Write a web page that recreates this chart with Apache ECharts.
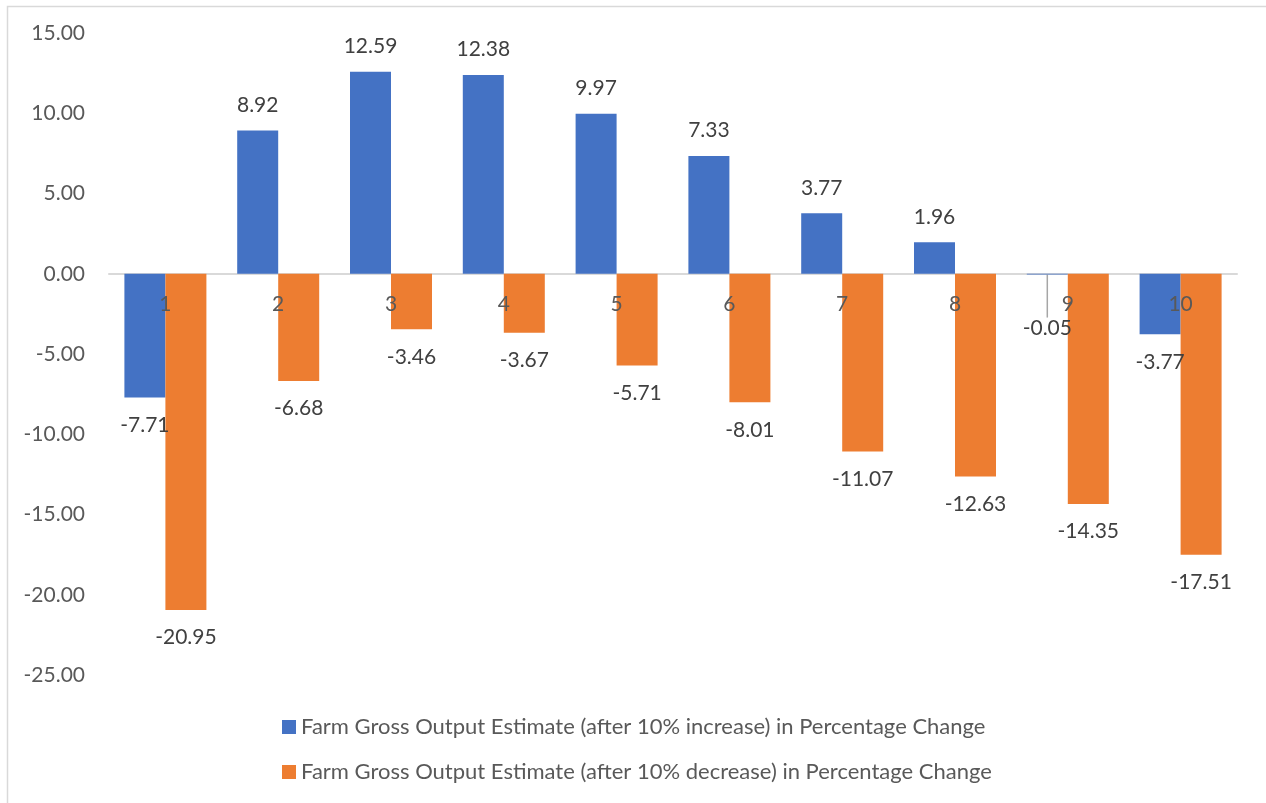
<!DOCTYPE html>
<html>
<head>
<meta charset="utf-8">
<script src="https://cdn.jsdelivr.net/npm/echarts@6/dist/echarts.min.js"></script>
<style>
  html, body { margin: 0; padding: 0; background: #fff; }
  #chart { width: 1266px; height: 803px; }
</style>
</head>
<body>
<div id="chart"></div>
<script>
// Deciles / groups on the category axis
const categories = ['1', '2', '3', '4', '5', '6', '7', '8', '9', '10'];

// Percentage change in farm gross output
const increaseValues = [-7.71, 8.92, 12.59, 12.38, 9.97, 7.33, 3.77, 1.96, -0.05, -3.77];
const decreaseValues = [-20.95, -6.68, -3.46, -3.67, -5.71, -8.01, -11.07, -12.63, -14.35, -17.51];

const seriesNames = [
  'Farm Gross Output Estimate (after 10% increase) in Percentage Change',
  'Farm Gross Output Estimate (after 10% decrease) in Percentage Change'
];

const Y_MIN = -25, Y_MAX = 15, Y_STEP = 5;

const FONT = 'Lato, "Noto Sans", sans-serif';
const W = 1266, H = 803;
const GRID = { left: 109, right: 29, top: 33, bottom: 128 };
// pixel row of the zero line, used for the category-label strip
const plotH = H - GRID.top - GRID.bottom;
const zeroY = GRID.top + plotH * Y_MAX / (Y_MAX - Y_MIN);

// Put each label beyond the bar end (above for positive, below for negative)
function toItems(values) {
  return values.map(v => ({
    value: v,
    label: { position: v >= 0 ? 'top' : 'bottom', distance: v >= 0 ? 15 : 17 }
  }));
}

const increaseItems = toItems(increaseValues);
// the tiny ninth bar gets its label pushed down with a leader line
increaseItems[8].labelLine = { show: true };

const labelStyle = {
  show: true,
  color: '#404040',
  fontSize: 21,
  fontFamily: FONT,
  formatter: p => p.value.toFixed(2)
};

const chart = echarts.init(document.getElementById('chart'), null, { renderer: 'canvas' });

chart.setOption({
  backgroundColor: '#ffffff',
  animation: false,
  graphic: [{
    type: 'rect',
    shape: { x: 7.5, y: 6.5, width: 1400, height: 1000 },
    style: { fill: 'none', stroke: '#d9d9d9', lineWidth: 1.5 },
    silent: true
  }],
  grid: [
    Object.assign({ containLabel: false }, GRID),
    // strip ending at the zero line: carries the category labels
    { left: GRID.left, right: GRID.right, top: GRID.top, bottom: H - zeroY, containLabel: false }
  ],
  legend: {
    orient: 'vertical',
    left: 282,
    top: 716,
    padding: 0,
    itemWidth: 14,
    itemHeight: 14,
    itemGap: 23,
    icon: 'rect',
    textStyle: { color: '#595959', fontSize: 22, fontFamily: FONT },
    data: seriesNames
  },
  xAxis: [
    {
      type: 'category',
      gridIndex: 0,
      data: categories,
      axisLine: { onZero: true, lineStyle: { color: '#d9d9d9', width: 2 } },
      axisTick: { show: false },
      axisLabel: { show: false },
      splitLine: { show: false }
    },
    {
      type: 'category',
      gridIndex: 1,
      data: categories,
      z: 10,
      axisLine: { show: false },
      axisTick: { show: false },
      axisLabel: { color: '#595959', fontSize: 21, fontFamily: FONT, margin: 20 },
      splitLine: { show: false }
    }
  ],
  yAxis: [
    {
      type: 'value',
      gridIndex: 0,
      min: Y_MIN,
      max: Y_MAX,
      interval: Y_STEP,
      axisLine: { show: false },
      axisTick: { show: false },
      splitLine: { show: false },
      axisLabel: {
        color: '#595959', fontSize: 21, fontFamily: FONT, margin: 24,
        formatter: v => v.toFixed(2)
      }
    },
    { type: 'value', gridIndex: 1, show: false }
  ],
  series: [
    {
      name: seriesNames[0],
      type: 'bar',
      data: increaseItems,
      barWidth: 41,
      barGap: '0%',
      itemStyle: { color: '#4472c4' },
      label: labelStyle,
      labelLine: { show: false, lineStyle: { color: '#a6a6a6', width: 1.5 } },
      labelLayout: p => (p.dataIndex === 8 ? { dy: 26 } : {})
    },
    {
      name: seriesNames[1],
      type: 'bar',
      data: toItems(decreaseValues),
      barWidth: 41,
      barGap: '0%',
      itemStyle: { color: '#ed7d31' },
      label: labelStyle
    }
  ]
});
</script>
</body>
</html>
